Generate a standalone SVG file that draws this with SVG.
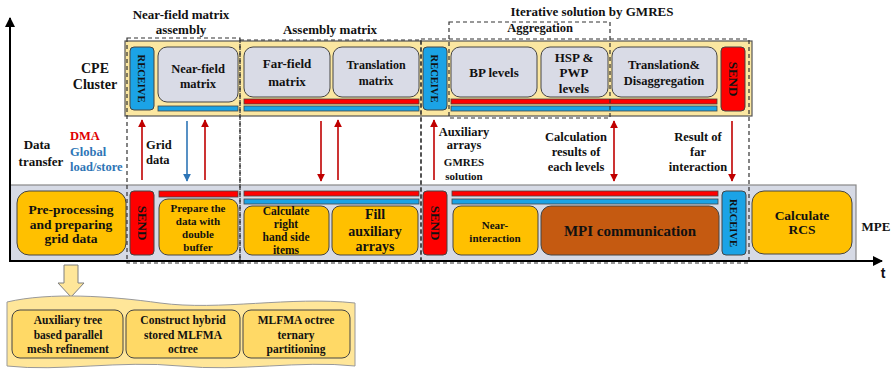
<svg xmlns="http://www.w3.org/2000/svg" width="893" height="370" viewBox="0 0 893 370">
<defs>
<style>
text{font-family:"Liberation Serif","Times New Roman",serif;font-weight:bold;fill:#111;text-anchor:middle}
.t14{font-size:14px}.t13{font-size:13px}.t125{font-size:12.5px}.t12{font-size:12px}.t11{font-size:11px}.t115{font-size:11.5px}
.gray{fill:#D9DBE6;stroke:#444;stroke-width:1}
.org{fill:#FFC000;stroke:#444;stroke-width:1}
.red{fill:#FF0000;stroke:#444;stroke-width:1}
.blue{fill:#1BA3E6;stroke:#444;stroke-width:1}
.rbar{fill:#FF0000;stroke:#444;stroke-width:0.8}
.bbar{fill:#1BA3E6;stroke:#444;stroke-width:0.8}
.dash{fill:none;stroke:#333;stroke-width:1.2;stroke-dasharray:4,3}
.ar{stroke:#C00000;stroke-width:1.6;fill:none}
.ab{stroke:#2E75B6;stroke-width:1.6;fill:none}
.sub{fill:#FFD966;stroke:#444;stroke-width:1}
</style>
<marker id="mr" viewBox="0 0 10 10" refX="9" refY="5" markerWidth="5" markerHeight="5" orient="auto-start-reverse"><path d="M0,0L10,5L0,10z" fill="#C00000"/></marker>
<marker id="mb" viewBox="0 0 10 10" refX="9" refY="5" markerWidth="5" markerHeight="5" orient="auto-start-reverse"><path d="M0,0L10,5L0,10z" fill="#2E75B6"/></marker>
<marker id="mk" viewBox="0 0 10 10" refX="9" refY="5" markerWidth="5" markerHeight="5" orient="auto"><path d="M0,0L10,5L0,10z" fill="#000"/></marker>
</defs>

<!-- backgrounds -->
<g id="cpe-cluster">
<rect x="125" y="41" width="627" height="75" fill="#FBE7A1" stroke="#555" stroke-width="1.2"/>
</g>
<g id="mpe-lane">
<rect x="10" y="185" width="846" height="76" fill="#D6DAE5" stroke="#888" stroke-width="1.2"/>
<text x="876" y="231" class="t13">MPE</text>
</g>

<!-- labels -->
<g id="labels">
<text x="95" y="73" class="t14">CPE</text>
<text x="95" y="89" class="t14">Cluster</text>
<text x="37" y="149" class="t13">Data</text>
<text x="41" y="166" class="t13">transfer</text>
<text x="70" y="140" class="t125" style="text-anchor:start;fill:#E00000">DMA</text>
<text x="70" y="156" class="t125" style="text-anchor:start;fill:#2E75B6">Global</text>
<text x="70" y="171" class="t125" style="text-anchor:start;fill:#2E75B6">load/store</text>
<text x="181" y="19" class="t13">Near-field matrix</text>
<text x="181" y="34" class="t13">assembly</text>
<text x="330" y="34" class="t13">Assembly matrix</text>
<text x="592" y="16" class="t13">Iterative solution by GMRES</text>
<text x="540" y="32" class="t125">Aggregation</text>
</g>

<!-- CPE nodes -->
<g id="cpe-receive-1"><rect x="130" y="47" width="24" height="63" rx="4" class="blue"/><text transform="translate(142,78.5) rotate(90)" y="4" style="font-size:10.5px">RECEIVE</text></g>
<g id="near-field-matrix"><rect x="158" y="47" width="80" height="55" rx="9" class="gray"/><text x="198" y="73" class="t125">Near-field</text><text x="198" y="88" class="t125">matrix</text></g>
<g id="cpe-bar-1"><rect x="158" y="106" width="80" height="5" class="bbar"/></g>
<g id="far-field-matrix"><rect x="244" y="47" width="86" height="50" rx="9" class="gray"/><text x="287" y="68" class="t13">Far-field</text><text x="287" y="86" class="t13">matrix</text></g>
<g id="translation-matrix"><rect x="333" y="47" width="86" height="50" rx="9" class="gray"/><text x="376" y="69" class="t12">Translation</text><text x="376" y="85" class="t12">matrix</text></g>
<g id="cpe-bar-2"><rect x="244" y="99" width="175" height="5" class="rbar"/><rect x="244" y="106" width="175" height="5" class="bbar"/></g>
<g id="cpe-receive-2"><rect x="423" y="47" width="24" height="63" rx="4" class="blue"/><text transform="translate(435,78.5) rotate(90)" y="4" style="font-size:10.5px">RECEIVE</text></g>
<g id="bp-levels"><rect x="451" y="47" width="86" height="50" rx="9" class="gray"/><text x="494" y="77" class="t13">BP levels</text></g>
<g id="hsp-pwp-levels"><rect x="541" y="47" width="67" height="50" rx="9" class="gray"/><text x="574" y="62" class="t13">HSP &amp;</text><text x="574" y="77" class="t13">PWP</text><text x="574" y="93" class="t13">levels</text></g>
<g id="translation-disaggregation"><rect x="612" y="47" width="105" height="50" rx="9" class="gray"/><text x="664" y="69" class="t125">Translation&amp;</text><text x="664" y="85" class="t125">Disaggregation</text></g>
<g id="cpe-bar-3"><rect x="451" y="99" width="266" height="5" class="rbar"/><rect x="451" y="106" width="266" height="5" class="bbar"/></g>
<g id="cpe-send"><rect x="721" y="47" width="24" height="64" rx="4" class="red"/><text transform="translate(733,79) rotate(90)" y="4.5" class="t13">SEND</text></g>

<!-- MPE nodes -->
<g id="pre-processing"><rect x="17" y="191" width="109" height="64" rx="12" class="org"/><text x="71" y="214" style="font-size:13.5px">Pre-processing</text><text x="71" y="229" style="font-size:13.5px">and preparing</text><text x="71" y="243" style="font-size:13.5px">grid data</text></g>
<g id="mpe-send-1"><rect x="130" y="191" width="24" height="64" rx="4" class="red"/><text transform="translate(142,223) rotate(90)" y="4.5" class="t13">SEND</text></g>
<g id="mpe-bar-1"><rect x="159" y="191" width="79" height="6" class="rbar"/></g>
<g id="prepare-data"><rect x="159" y="199" width="79" height="56" rx="9" class="org"/><text x="198" y="212" class="t11">Prepare the</text><text x="198" y="225" class="t11">data with</text><text x="198" y="238" class="t11">double</text><text x="198" y="251" class="t11">buffer</text></g>
<g id="mpe-bar-2"><rect x="244" y="191" width="175" height="5" class="rbar"/><rect x="244" y="199" width="175" height="5" class="bbar"/></g>
<g id="calculate-rhs"><rect x="244" y="206" width="85" height="49" rx="8" class="org"/><text x="286" y="215" class="t115">Calculate</text><text x="286" y="228" class="t115">right</text><text x="286" y="241" class="t115">hand side</text><text x="286" y="254" class="t115">items</text></g>
<g id="fill-auxiliary"><rect x="332" y="206" width="86" height="49" rx="8" class="org"/><text x="375" y="219" class="t14">Fill</text><text x="375" y="236" class="t14">auxiliary</text><text x="375" y="251" class="t14">arrays</text></g>
<g id="mpe-send-2"><rect x="423" y="191" width="24" height="64" rx="4" class="red"/><text transform="translate(435,223) rotate(90)" y="4.5" class="t13">SEND</text></g>
<g id="mpe-bar-3"><rect x="452" y="191" width="266" height="5" class="rbar"/><rect x="452" y="199" width="266" height="5" class="bbar"/></g>
<g id="near-interaction"><rect x="453" y="206" width="85" height="49" rx="8" class="org"/><text x="495" y="229" class="t11">Near-</text><text x="495" y="242" class="t11">interaction</text></g>
<g id="mpi-communication"><rect x="541" y="206" width="178" height="49" rx="10" fill="#C55A11" stroke="#444" stroke-width="1"/><text x="630" y="236" style="font-size:15px">MPI communication</text></g>
<g id="mpe-receive"><rect x="722" y="191" width="24" height="64" rx="4" class="blue"/><text transform="translate(734,223) rotate(90)" y="4" style="font-size:10.5px">RECEIVE</text></g>
<g id="calculate-rcs"><rect x="752" y="191" width="100" height="63" rx="12" class="org"/><text x="802" y="220" style="font-size:13.5px">Calculate</text><text x="802" y="234" style="font-size:13.5px">RCS</text></g>

<!-- dashed phase boxes -->
<g id="phases">
<rect x="127" y="38" width="113" height="225" class="dash"/>
<rect x="240" y="40" width="181" height="223" class="dash"/>
<rect x="421" y="39" width="328" height="224" class="dash"/>
<rect x="449" y="22" width="161" height="96" class="dash"/>
</g>

<!-- axes -->
<g id="axes">
<line x1="10" y1="262" x2="10" y2="18" stroke="#000" stroke-width="2" marker-end="url(#mk)"/>
<line x1="10" y1="261" x2="882" y2="261" stroke="#000" stroke-width="2" marker-end="url(#mk)"/>
<text x="883" y="278" style="font-family:'Liberation Sans',Arial,sans-serif;font-size:14px">t</text>
</g>

<!-- connectors -->
<g id="connectors">
<line x1="142" y1="180" x2="142" y2="120" class="ar" marker-end="url(#mr)"/>
<line x1="187" y1="121" x2="187" y2="181" class="ab" marker-end="url(#mb)"/>
<line x1="205" y1="180" x2="205" y2="120" class="ar" marker-end="url(#mr)"/>
<line x1="321" y1="121" x2="321" y2="181" class="ar" marker-end="url(#mr)"/>
<line x1="338" y1="180" x2="338" y2="120" class="ar" marker-end="url(#mr)"/>
<line x1="434" y1="180" x2="434" y2="120" class="ar" marker-end="url(#mr)"/>
<line x1="614" y1="121" x2="614" y2="181" class="ar" marker-start="url(#mr)" marker-end="url(#mr)"/>
<line x1="732" y1="121" x2="732" y2="181" class="ar" marker-end="url(#mr)"/>
<text x="146" y="149" class="t125" style="text-anchor:start">Grid</text>
<text x="146" y="164" class="t125" style="text-anchor:start">data</text>
<text x="464" y="136" class="t125">Auxiliary</text>
<text x="464" y="149" class="t125">arrays</text>
<text x="464" y="166" class="t11">GMRES</text>
<text x="464" y="180" class="t11">solution</text>
<text x="576" y="141" class="t125">Calculation</text>
<text x="576" y="156" class="t125">results of</text>
<text x="576" y="171" class="t125">each levels</text>
<text x="698" y="141" class="t125">Result of</text>
<text x="698" y="156" class="t125">far</text>
<text x="698" y="171" class="t125">interaction</text>
</g>

<!-- pre-processing detail -->
<g id="detail-arrow">
<path d="M64,265 H78 V283 H84 L71,297 L58,283 H64 Z" fill="#FFE699" stroke="#7F7F7F" stroke-width="1"/>
</g>
<g id="detail-banner">
<path d="M7,302 C50,292 110,296 160,303 C220,311 290,296 355,303 V366 C300,360 240,372 180,366 C120,360 60,372 7,366 Z" fill="#FFE699" stroke="#999" stroke-width="1"/>
<g id="mesh-refinement"><rect x="12" y="310" width="111" height="48" rx="8" class="sub"/><text x="68" y="324" class="t115">Auxiliary tree</text><text x="68" y="339" class="t115">based parallel</text><text x="68" y="353" class="t115">mesh refinement</text></g>
<g id="hybrid-octree"><rect x="126" y="310" width="114" height="48" rx="8" class="sub"/><text x="183" y="324" class="t115">Construct hybrid</text><text x="183" y="339" class="t115">stored MLFMA</text><text x="183" y="353" class="t115">octree</text></g>
<g id="ternary-partitioning"><rect x="243" y="310" width="107" height="48" rx="8" class="sub"/><text x="296" y="324" class="t115">MLFMA octree</text><text x="296" y="339" class="t115">ternary</text><text x="296" y="353" class="t115">partitioning</text></g>
</g>
</svg>
